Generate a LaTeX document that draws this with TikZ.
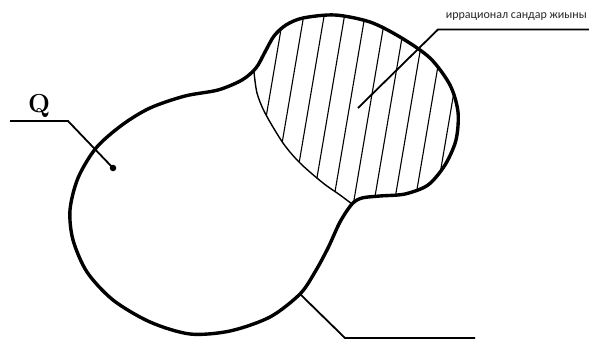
\documentclass[tikz,border=0pt]{standalone}
\usepackage{fontspec}
\newfontfamily\labelfont{Carlito}
\begin{document}
\begin{tikzpicture}[x=1pt,y=-1pt,
  outline/.style={line width=3.4pt, line join=round},
  thinb/.style={line width=1.4pt},
  hatchline/.style={line width=1.1pt},
  pointer/.style={line width=1.8pt, line join=miter},
  dotnode/.style={circle, fill=black, inner sep=0pt, minimum size=6.5pt}]
\useasboundingbox (0,0) rectangle (589,340);
% hatching
\begin{scope}
\clip plot[smooth] coordinates {(254,72) (257,93) (265,113) (283,143) (300,163) (323,183) (340,195) (352,204)}
  -- plot[smooth] coordinates {(352,204) (362,198) (380,196) (405,194) (428,185) (445,165) (456,140) (458,112) (450,85) (430,58) (400,37) (370,22) (335,15) (303,18) (284,28) (272,43) (263,60) (254,72)} -- cycle;
\foreach \k in {0,...,9} {
  \pgfmathsetmacro\c{269+20.4*\k}
  \draw[hatchline] ({\c+17},0) -- ({\c-25.5},250);
}
\end{scope}
% thin boundary of hatched region
\draw[thinb] plot[smooth] coordinates {(254,72) (257,93) (265,113) (283,143) (300,163) (323,183) (340,195) (352,204)};
% outline
\draw[outline] plot[smooth cycle, tension=0.5] coordinates {(150,108) (185,96) (218,90) (242,80) (256,68) (265,52) (274,36) (286,25) (303,18) (335,15) (370,22) (400,37) (430,58) (450,85) (458,112) (456,140) (445,165) (428,185) (405,194) (380,196) (362,198) (352,204) (340,222) (328,248) (315,272) (300,294) (270,317) (230,331) (190,334) (150,322) (113,300) (87,272) (73,240) (70,210) (78,178) (96,148) (122,125)};
% Q pointer
\coordinate (q1) at (10,121);
\coordinate (q2) at (68,121);
\node[dotnode] (qdot) at (113,168) {};
\draw[pointer] (q1) -- (q2) -- (qdot.center);
\node[font=\bfseries\fontsize{26}{26}\selectfont, anchor=base, inner sep=0pt] (qlab) at (39,112) {Q};
% label pointer
\node[font=\labelfont\fontsize{12}{12}\selectfont, anchor=base east, text=black!85, inner sep=0pt] (lbl) at (587,18) {иррационал сандар жиыны};
\coordinate (l1) at (589,29.5);
\coordinate (l2) at (438,29.5);
\coordinate (l3) at (358,108);
\draw[pointer] (l1) -- (l2) -- (l3);
% bottom pointer
\coordinate (b1) at (300,294);
\coordinate (b2) at (345,338);
\coordinate (b3) at (475,338);
\draw[pointer] (b1) -- (b2) -- (b3);
\end{tikzpicture}
\end{document}
